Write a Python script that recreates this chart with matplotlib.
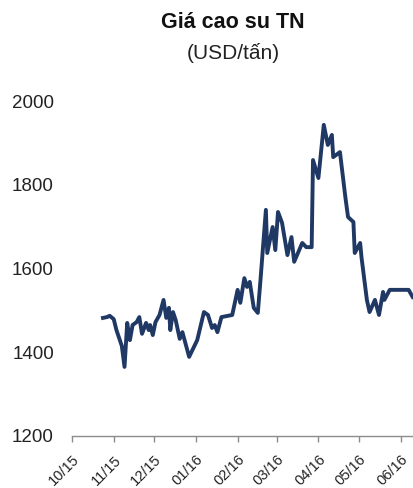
import pandas as pd
import matplotlib.pyplot as plt
import matplotlib.dates as mdates

plt.rcParams['font.family'] = ['Liberation Sans', 'DejaVu Sans']

# Natural rubber price, USD per tonne
dates = [
    '2015-10-24', '2015-10-27', '2015-10-29', '2015-11-01', '2015-11-03', '2015-11-05',
    '2015-11-07', '2015-11-09', '2015-11-11', '2015-11-13', '2015-11-15', '2015-11-18',
    '2015-11-20', '2015-11-22', '2015-11-25', '2015-11-27', '2015-11-28', '2015-11-30',
    '2015-12-02', '2015-12-05', '2015-12-08', '2015-12-10', '2015-12-12', '2015-12-13',
    '2015-12-15', '2015-12-17', '2015-12-20', '2015-12-22', '2015-12-27', '2016-01-02',
    '2016-01-07', '2016-01-10', '2016-01-13', '2016-01-15', '2016-01-17', '2016-01-20',
    '2016-01-28', '2016-02-01', '2016-02-03', '2016-02-06', '2016-02-08', '2016-02-10',
    '2016-02-13', '2016-02-16', '2016-02-18', '2016-02-22', '2016-02-23', '2016-02-27',
    '2016-02-29', '2016-03-02', '2016-03-05', '2016-03-09', '2016-03-12', '2016-03-14',
    '2016-03-20', '2016-03-23', '2016-03-27', '2016-03-28', '2016-04-01', '2016-04-05',
    '2016-04-08', '2016-04-11', '2016-04-12', '2016-04-17', '2016-04-21', '2016-04-23',
    '2016-04-27', '2016-04-28', '2016-05-02', '2016-05-03', '2016-05-07', '2016-05-09',
    '2016-05-13', '2016-05-16', '2016-05-19', '2016-05-20', '2016-05-24', '2016-06-07',
    '2016-06-10',
]
prices = [
    1482, 1484, 1487, 1479, 1453, 1434,
    1415, 1365, 1470, 1429, 1465, 1472,
    1484, 1444, 1470, 1453, 1465, 1441,
    1472, 1489, 1525, 1482, 1506, 1453,
    1496, 1477, 1432, 1448, 1389, 1429,
    1496, 1489, 1458, 1465, 1448, 1484,
    1489, 1549, 1518, 1577, 1556, 1568,
    1506, 1494, 1573, 1740, 1637, 1699,
    1644, 1735, 1709, 1632, 1675, 1616,
    1661, 1651, 1651, 1859, 1816, 1943,
    1895, 1919, 1866, 1878, 1771, 1723,
    1711, 1637, 1661, 1627, 1525, 1496,
    1525, 1489, 1544, 1525, 1549, 1549,
    1532,
]
y_ticks = [1200, 1400, 1600, 1800, 2000]

s = pd.Series(prices, index=pd.to_datetime(dates))

fig = plt.figure(figsize=(4.14, 4.88), dpi=100)
ax = fig.add_axes([72 / 414, 52 / 488, 342 / 414, 335 / 488])

ax.plot(s.index, s.values, color='#1f3864', lw=2.8, solid_joinstyle='round')

ax.set_ylim(1200, 2000)
ax.set_yticks(y_ticks)
ax.set_xlim(pd.Timestamp('2015-10-01'), pd.Timestamp('2016-06-11'))
ax.xaxis.set_major_locator(mdates.MonthLocator())
ax.xaxis.set_major_formatter(mdates.DateFormatter('%m/%y'))

for side in ['top', 'right', 'left']:
    ax.spines[side].set_visible(False)
ax.spines['bottom'].set_color('#8c8c8c')
ax.spines['bottom'].set_linewidth(1.0)
ax.tick_params(axis='y', length=0, pad=13, labelsize=13.5, labelcolor='#222222')
ax.tick_params(axis='x', length=4, width=1, color='#8c8c8c', pad=8,
               labelsize=10.5, labelcolor='#222222')
for lbl in ax.get_xticklabels():
    lbl.set_rotation(45)
    lbl.set_ha('right')
    lbl.set_rotation_mode('anchor')

fig.text(233 / 414, 1 - 23 / 488, 'Giá cao su TN', ha='center', va='center',
         fontsize=15.5, fontweight='bold', color='#111111')
fig.text(233 / 414, 1 - 53 / 488, '(USD/tấn)', ha='center', va='center',
         fontsize=15, color='#222222')

fig.savefig('out.png', dpi=100)
